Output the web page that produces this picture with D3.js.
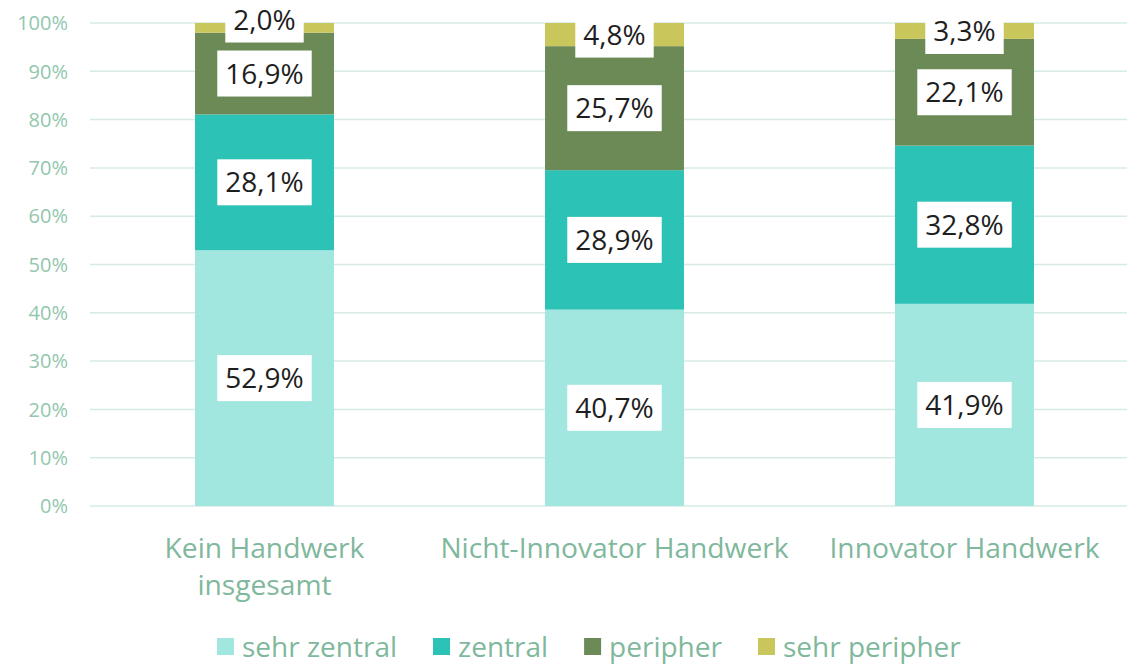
<!DOCTYPE html>
<html>
<head>
<meta charset="utf-8">
<script src="https://cdn.jsdelivr.net/npm/d3@7"></script>
<style>
  body { margin: 0; background: #fff; }
  svg text { font-family: "Open Sans", sans-serif; }
</style>
</head>
<body>
<svg id="chart" width="1127" height="666"></svg>
<script>
// data
var categories = ["Kein Handwerk insgesamt", "Nicht-Innovator Handwerk", "Innovator Handwerk"];
// how the axis labels break in the original
var categoryLines = [["Kein Handwerk", "insgesamt"], ["Nicht-Innovator Handwerk"], ["Innovator Handwerk"]];
var seriesNames = ["sehr zentral", "zentral", "peripher", "sehr peripher"];
var sehrZentral = [52.9, 40.7, 41.9];
var zentral = [28.1, 28.9, 32.8];
var peripher = [16.9, 25.7, 22.1];
var sehrPeripher = [2.0, 4.8, 3.3];
var seriesColors = ["#a2e6e0", "#2dc2b6", "#6b8a56", "#c9c65c"];
var yTicks = [0, 0.1, 0.2, 0.3, 0.4, 0.5, 0.6, 0.7, 0.8, 0.9, 1];

var svg = d3.select("#chart");

// rows for the stack (100% stacked, so normalise each bar)
var table = categories.map(function(c, i){
	var row = { cat: c };
	var vals = [sehrZentral[i], zentral[i], peripher[i], sehrPeripher[i]];
	var total = d3.sum(vals);
	seriesNames.forEach(function(s, j){
		row[s] = vals[j] / total;
		row[s + "_raw"] = vals[j];
	});
	return row;
});

var stacked = d3.stack().keys(seriesNames)(table);

var x = d3.scaleBand()
	.domain(categories)
	.range([89.5, 1139.5])
	.paddingInner(0.603)
	.paddingOuter(0.3015);

var y = d3.scaleLinear().domain([0, 1]).range([506, 23]);

// gridlines
svg.append("g")
	.selectAll("line")
	.data(yTicks)
	.enter().append("line")
	.attr("x1", 90)
	.attr("x2", 1127)
	.attr("y1", d => y(d))
	.attr("y2", d => y(d))
	.attr("stroke", "#d6ebe4")
	.attr("stroke-width", 1.5);

// y tick labels
svg.append("g")
	.selectAll("text")
	.data(yTicks)
	.enter().append("text")
	.attr("x", 68)
	.attr("y", d => y(d))
	.attr("dy", "0.36em")
	.attr("text-anchor", "end")
	.attr("font-size", 20)
	.attr("fill", "#92c7ae")
	.text(d3.format(".0%"));

// bars
var layers = svg.append("g")
	.selectAll("g")
	.data(stacked)
	.enter().append("g")
	.attr("fill", (d, i) => seriesColors[i]);

layers.selectAll("rect")
	.data(d => d)
	.enter().append("rect")
	.attr("x", d => x(d.data.cat))
	.attr("width", x.bandwidth())
	.attr("y", d => y(d[1]))
	.attr("height", d => y(d[0]) - y(d[1]));

// value labels with white boxes
var fmt = v => v.toFixed(1).replace(".", ",") + "%";
var boxH = 46;
var labelG = svg.append("g");
categories.forEach(function(c, ci){
	var cx = x(c) + x.bandwidth() / 2;
	var prevTop = null;
	stacked.forEach(function(layer){
		var d = layer[ci];
		var cy = (y(d[0]) + y(d[1])) / 2;
		// excel pushes a label up when it would run into the one below
		if (prevTop !== null && cy + boxH / 2 > prevTop - 8) cy = prevTop - 8 - boxH / 2;
		var g = labelG.append("g");
		var rect = g.append("rect").attr("fill", "#fff");
		var t = g.append("text")
			.attr("x", cx)
			.attr("y", cy)
			.attr("dy", "0.36em")
			.attr("text-anchor", "middle")
			.attr("font-size", 28)
			.attr("fill", "#1e1e1e")
			.text(fmt(d.data[layer.key + "_raw"]));
		var w = t.node().getComputedTextLength() + 16;
		rect.attr("x", cx - w / 2).attr("y", cy - boxH / 2)
			.attr("width", w).attr("height", boxH);
		prevTop = cy - boxH / 2;
	});
});

// category labels
var catG = svg.append("g");
categories.forEach(function(c, i){
	var t = catG.append("text")
		.attr("x", x(c) + x.bandwidth() / 2)
		.attr("y", 558)
		.attr("text-anchor", "middle")
		.attr("font-size", 28.2)
		.attr("fill", "#7fb89c");
	categoryLines[i].forEach(function(line, j){
		t.append("tspan")
			.attr("x", x(c) + x.bandwidth() / 2)
			.attr("dy", j === 0 ? 0 : 37)
			.text(line);
	});
});

// legend
var legend = svg.append("g");
var lx = 217;
seriesNames.forEach(function(s, i){
	legend.append("rect")
		.attr("x", lx)
		.attr("y", 638)
		.attr("width", 17)
		.attr("height", 17)
		.attr("fill", seriesColors[i]);
	var t = legend.append("text")
		.attr("x", lx + 25)
		.attr("y", 647)
		.attr("dy", "0.36em")
		.attr("font-size", 28)
		.attr("fill", "#7fb89c")
		.text(s);
	lx += 25 + t.node().getComputedTextLength() + 36;
});
</script>
</body>
</html>
